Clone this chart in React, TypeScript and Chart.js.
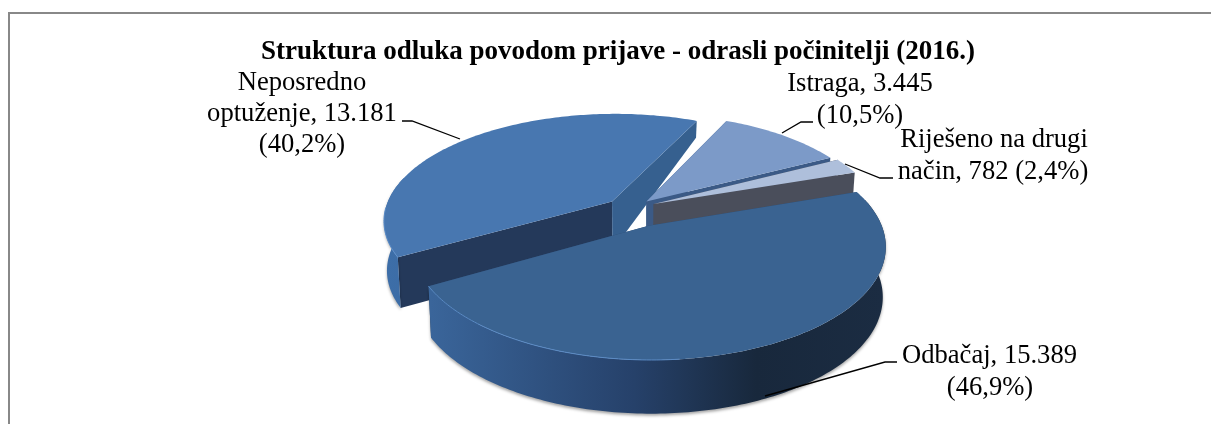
import React, { useEffect, useRef } from "react";
import { Chart, registerables } from "chart.js";

Chart.register(...registerables);

const categories = ["Istraga", "Riješeno na drugi način", "Odbačaj", "Neposredno optuženje"];
const values = [3445, 782, 15389, 13181];
const titleText = "Struktura odluka povodom prijave - odrasli počinitelji (2016.)";
const labelLines = [
  ["Istraga, 3.445", "(10,5%)"],
  ["Riješeno na drugi", "način, 782 (2,4%)"],
  ["Odbačaj, 15.389", "(46,9%)"],
  ["Neposredno", "optuženje, 13.181", "(40,2%)"],
];
const labelAnchors = [
  [[860, 84], [860, 116]],
  [[994, 140], [993, 172]],
  [[989.5, 356], [990, 388]],
  [[302, 83], [302, 114], [302, 145]],
];
const leaders = [
  [[813, 122], [801, 122], [782, 133]],
  [[893, 178], [880, 178], [845, 164]],
  [[897, 362], [885, 362], [765, 396]],
  [[402, 121], [412, 121], [460, 139]],
];
const explodeX = [0.048, 0.08, 0.056, -0.105];
const explodeY = [-0.1, -0.077, 0.127, -0.1];
const drawOrder = [3, 0, 1, 2];
const topColors = ["#7c9ac8", "#aebfdb", "#3a6391", "#4877b0"];
const rimColors = ["#8aa8d4", "#c4d2e8", "#5a8ac4", "#5a8cc8"];
const startFace = ["#3b5a86", "#4a4e5b", "#2c4a70", "#24395a"];
const endFace = ["#3b5a86", "#4a4e5b", "#2c4a70", "#36608f"];
const wallStops = [
  [[0, "#5f7fae"], [1, "#4a6a98"]],
  [[0, "#6b7a94"], [1, "#4a4e5b"]],
  [[0, "#3a659a"], [0.45, "#26416a"], [0.72, "#18283c"], [1, "#1b2c42"]],
  [[0, "#3d6ea8"], [1, "#2d5488"]],
];

const view = { cx: 635.6, cy: 212, A: 106, B: 228, k: 0.171 };

function project(x: number, y: number, z: number): [number, number] {
  const w = 1 - view.k * y;
  const sx = view.cx + (view.B * x) / w;
  const sy = view.cy + (view.A * y) / w;
  const t = sy - view.cy;
  const depth = Math.min(17 + 0.4 * (t + 91), 49 + 0.03 * (t + 8));
  return [view.cx + (sx - view.cx) * (1 - 0.012 * z), sy + z * depth];
}

function poly(ctx: CanvasRenderingContext2D, pts: [number, number][]) {
  ctx.beginPath();
  pts.forEach((p, i) => (i ? ctx.lineTo(p[0], p[1]) : ctx.moveTo(p[0], p[1])));
  ctx.closePath();
}

const pie3d = {
  id: "pie3d",
  beforeDatasetDraw() {
    return false;
  },
  afterDatasetsDraw(chart: any) {
    const ctx: CanvasRenderingContext2D = chart.ctx;
    const arcs = chart.getDatasetMeta(0).data;
    ctx.save();
    drawOrder.forEach((i) => {
      const arc = arcs[i];
      const a0 = arc.startAngle;
      const a1 = arc.endAngle;
      const ox = explodeX[i];
      const oy = explodeY[i];
      const n = Math.max(8, Math.ceil((a1 - a0) * 60));
      const angles: number[] = [];
      for (let s = 0; s <= n; s++) angles.push(a0 + ((a1 - a0) * s) / n);
      const rim = (a: number, z: number) => project(ox + Math.cos(a), oy + Math.sin(a), z);
      const top = angles.map((a) => rim(a, 0));
      const bottom = angles.map((a) => rim(a, 1));
      const apex0 = project(ox, oy, 0);
      const apex1 = project(ox, oy, 1);

      ctx.fillStyle = startFace[i];
      poly(ctx, [apex0, top[0], bottom[0], apex1]);
      ctx.fill();
      ctx.fillStyle = endFace[i];
      poly(ctx, [apex0, top[n], bottom[n], apex1]);
      ctx.fill();

      const front = angles.filter((a) => Math.sin(a) > -0.25);
      if (front.length > 1) {
        const wallTop = front.map((a) => rim(a, 0));
        const wallBottom = front.map((a) => rim(a, 1));
        ctx.shadowColor = "rgba(0,0,0,0.35)";
        ctx.shadowBlur = 3;
        ctx.shadowOffsetY = 2;
        const xs = bottom.map((p) => p[0]);
        const g = ctx.createLinearGradient(Math.min(...xs), 0, Math.max(...xs), 0);
        wallStops[i].forEach((s: any) => g.addColorStop(s[0], s[1]));
        ctx.fillStyle = g;
        poly(ctx, [...wallTop, ...[...wallBottom].reverse()]);
        ctx.fill();
        ctx.shadowColor = "transparent";
        ctx.shadowBlur = 0;
        ctx.shadowOffsetY = 0;
      }

      ctx.fillStyle = topColors[i];
      poly(ctx, [apex0, ...top]);
      ctx.fill();

      const lit = (a: number) => Math.sin(a) > 0.05 && Math.cos(a) < 0.1;
      ctx.strokeStyle = rimColors[i];
      ctx.lineWidth = 1;
      ctx.beginPath();
      angles.forEach((a, s) => {
        if (!lit(a)) return;
        const p = top[s];
        if (s > 0 && lit(angles[s - 1])) ctx.lineTo(p[0], p[1]);
        else ctx.moveTo(p[0], p[1]);
      });
      ctx.stroke();
    });

    ctx.strokeStyle = "#000";
    ctx.lineWidth = 1.3;
    leaders.forEach((l) => {
      ctx.beginPath();
      l.forEach((p, j) => (j ? ctx.lineTo(p[0], p[1]) : ctx.moveTo(p[0], p[1])));
      ctx.stroke();
    });

    ctx.fillStyle = "#000";
    ctx.font = "26.6px 'Liberation Serif'";
    ctx.textAlign = "center";
    ctx.textBaseline = "middle";
    labelLines.forEach((lines, i) => {
      lines.forEach((t, j) => {
        const p = labelAnchors[i][j];
        ctx.fillText(t, p[0], p[1]);
      });
    });
    ctx.restore();
  },
};

export default function App() {
  const ref = useRef<HTMLCanvasElement | null>(null);
  useEffect(() => {
    const chart = new Chart(ref.current as HTMLCanvasElement, {
      type: "pie",
      data: { labels: categories, datasets: [{ data: values, borderWidth: 0 }] },
      options: {
        animation: false,
        responsive: false,
        rotation: 24.8,
        layout: { padding: { left: 25, top: 35.5, right: 0, bottom: 0 } },
        plugins: {
          legend: { display: false },
          tooltip: { enabled: false },
          title: {
            display: true,
            text: titleText,
            color: "#000",
            font: { family: "'Liberation Serif'", size: 27, weight: "bold" },
            padding: { top: 0, bottom: 6 },
          },
        },
      },
      plugins: [pie3d],
    } as any);
    return () => chart.destroy();
  }, []);
  return (
    <div style={{ position: "fixed", left: 0, top: 0, width: 1211, height: 424, background: "#fff", overflow: "hidden" }}>
      <div
        style={{
          position: "absolute",
          left: 8,
          top: 12,
          width: 1203,
          height: 412,
          borderLeft: "2px solid #888",
          borderTop: "2px solid #888",
          boxSizing: "border-box",
        }}
      />
      <canvas ref={ref} width={1211} height={424} style={{ position: "absolute", left: 0, top: 0, display: "block" }} />
    </div>
  );
}
